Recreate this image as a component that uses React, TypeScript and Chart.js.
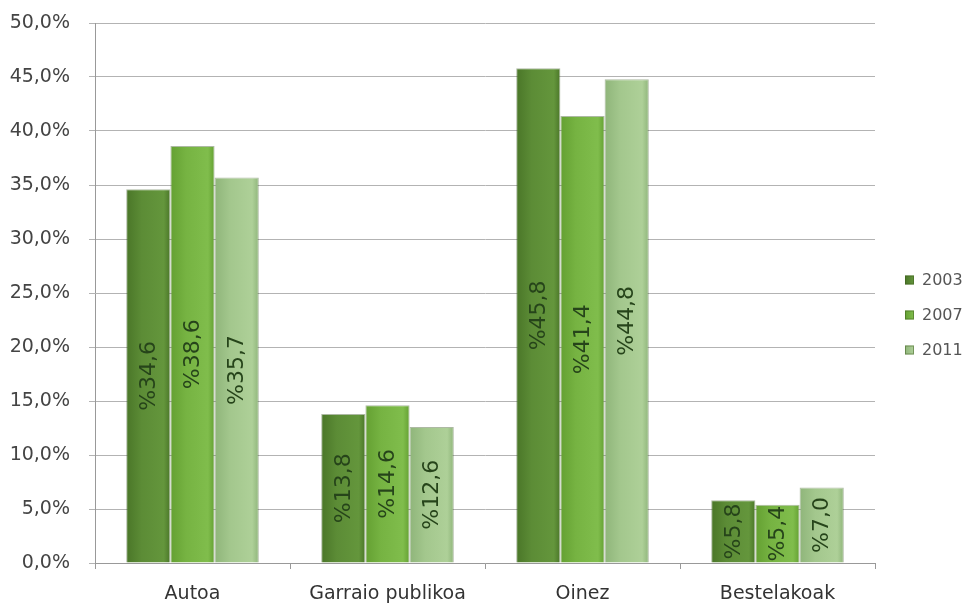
import React, { useEffect, useRef } from "react";
import { Chart, registerables } from "chart.js";

Chart.register(...registerables);

const categories = ["Autoa", "Garraio publikoa", "Oinez", "Bestelakoak"];
const seriesNames = ["2003", "2007", "2011"];
const values2003 = [34.6, 13.8, 45.8, 5.8];
const values2007 = [38.6, 14.6, 41.4, 5.4];
const values2011 = [35.7, 12.6, 44.8, 7.0];
const yMin = 0;
const yMax = 50;
const yStep = 5;

const seriesColors = [
  { dark: "#4a7628", mid: "#5c8c36", light: "#64963c" },
  { dark: "#64a032", mid: "#76b342", light: "#80bd4c" },
  { dark: "#8fb57a", mid: "#a3c78d", light: "#aed098" },
];

const CAT_PCT = 0.68;
const FONT = "'DejaVu Sans', Verdana, sans-serif";

const fmt = (v: number) => v.toFixed(1).replace(".", ",");

export default function App() {
  const canvasRef = useRef<HTMLCanvasElement | null>(null);

  useEffect(() => {
    const canvas = canvasRef.current;
    if (!canvas) return;
    const allValues = [values2003, values2007, values2011];

    const makeBg = (si: number) => (ctx: any) => {
      const c = seriesColors[si];
      const chart = ctx.chart;
      const xs = chart.scales && chart.scales.x;
      if (!xs || ctx.dataIndex === undefined || !isFinite(xs.width) || xs.width <= 0) return c.mid;
      const catW = xs.width / categories.length;
      const groupW = catW * CAT_PCT;
      const barW = groupW / seriesNames.length;
      const center = xs.getPixelForValue(ctx.dataIndex);
      const left = center - groupW / 2 + si * barW;
      const g = chart.ctx.createLinearGradient(left, 0, left + barW, 0);
      g.addColorStop(0, c.dark);
      g.addColorStop(0.35, c.mid);
      g.addColorStop(0.85, c.light);
      g.addColorStop(1, c.dark);
      return g;
    };

    const labelPlugin = {
      id: "barLabels",
      afterDatasetsDraw(chart: any) {
        const ctx = chart.ctx;
        ctx.save();
        ctx.font = `22px ${FONT}`;
        ctx.fillStyle = "#26441a";
        ctx.textAlign = "center";
        ctx.textBaseline = "middle";
        chart.data.datasets.forEach((ds: any, di: number) => {
          const meta = chart.getDatasetMeta(di);
          meta.data.forEach((el: any, i: number) => {
            const v = ds.data[i];
            const midY = (el.y + el.base) / 2;
            ctx.save();
            ctx.translate(el.x, midY);
            ctx.rotate(-Math.PI / 2);
            ctx.fillText("%" + fmt(v), 0, 1);
            ctx.restore();
          });
        });
        ctx.restore();
      },
    };

    const legendPlugin = {
      id: "sideLegend",
      afterDraw(chart: any) {
        const ctx = chart.ctx;
        const area = chart.chartArea;
        const boxX = area.right + 30;
        const centerY = 315;
        const gap = 35;
        ctx.save();
        ctx.font = `16px ${FONT}`;
        ctx.textBaseline = "middle";
        ctx.textAlign = "left";
        seriesNames.forEach((name, i) => {
          const y = centerY + (i - (seriesNames.length - 1) / 2) * gap;
          const c = seriesColors[i];
          const g = ctx.createLinearGradient(boxX, 0, boxX + 9, 0);
          g.addColorStop(0, c.dark);
          g.addColorStop(1, c.light);
          ctx.fillStyle = g;
          ctx.fillRect(boxX, y - 4.5, 9, 9);
          ctx.strokeStyle = "rgba(60,90,30,0.5)";
          ctx.lineWidth = 1;
          ctx.strokeRect(boxX + 0.5, y - 4, 8, 8);
          ctx.fillStyle = "#555555";
          ctx.fillText(name, boxX + 17, y + 1);
        });
        ctx.restore();
      },
    };

    const chart = new Chart(canvas, {
      type: "bar",
      data: {
        labels: categories,
        datasets: seriesNames.map((name, si) => ({
          label: name,
          data: allValues[si],
          backgroundColor: makeBg(si),
          borderColor: "rgba(50,80,25,0.4)",
          borderWidth: 1,
          categoryPercentage: CAT_PCT,
          barPercentage: 1,
        })),
      },
      options: {
        animation: false,
        responsive: true,
        maintainAspectRatio: false,
        layout: { padding: { top: 23, right: 91, left: 0, bottom: 0 } },
        plugins: {
          legend: { display: false },
          tooltip: { enabled: false },
        },
        scales: {
          x: {
            afterFit: (scale: any) => {
              scale.height = 43;
            },
            grid: {
              offset: true,
              drawOnChartArea: false,
              drawTicks: true,
              tickLength: 6,
              color: "#999999",
            },
            border: { color: "#999999" },
            ticks: {
              color: "#333333",
              font: { family: FONT, size: 19 },
              padding: 14,
              maxRotation: 0,
            },
          },
          y: {
            min: yMin,
            max: yMax,
            afterFit: (scale: any) => {
              scale.width = 95;
              scale.paddingTop = 0;
              scale.paddingBottom = 0;
            },
            ticks: {
              stepSize: yStep,
              color: "#444444",
              font: { family: FONT, size: 19 },
              padding: 19,
              callback: (v: any) => fmt(Number(v)) + "%",
            },
            grid: {
              color: "#b3b3b3",
              tickLength: 6,
              lineWidth: 1,
            },
            border: { color: "#999999" },
          },
        },
      },
      plugins: [labelPlugin, legendPlugin],
    });

    return () => chart.destroy();
  }, []);

  return (
    <div style={{ position: "fixed", left: 0, top: 0, width: 966, height: 606, background: "#ffffff" }}>
      <canvas ref={canvasRef} />
    </div>
  );
}
